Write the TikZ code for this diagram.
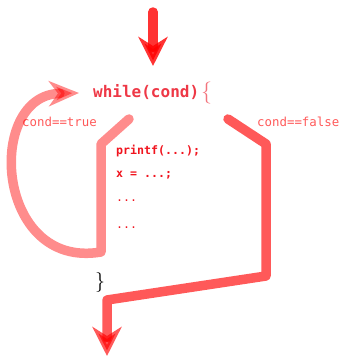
\documentclass[tikz,border=0pt]{standalone}
\usepackage{fontspec}
\newfontfamily\codefont{DejaVu Sans Mono}
\usetikzlibrary{arrows.meta}
\usetikzlibrary{calc}

\definecolor{keyred}{RGB}{238,56,70}
\definecolor{bodyred}{RGB}{240,20,30}
\definecolor{labelred}{RGB}{255,90,90}

\begin{document}
\begin{tikzpicture}[x=1pt,y=-1pt,
    flow/.style={line width=9.5pt, line cap=round, line join=round, red,
      -{Stealth[length=29pt,width=29pt,inset=9pt]}},
    code/.style={anchor=west, inner sep=0pt, text=bodyred, font=\codefont\bfseries\fontsize{11.6}{12}\selectfont},
    cond/.style={anchor=west, inner sep=0pt, text=labelred, font=\codefont\fontsize{12.4}{13}\selectfont}]
      \useasboundingbox (0,0) rectangle (340,356);

      % loop header and body
      \node[anchor=west, inner sep=0pt, text=keyred, font=\codefont\bfseries\fontsize{16}{18}\selectfont] (while) at (93,92) {while(cond)};
      \node[anchor=west, inner sep=0pt, text=keyred!70, font=\fontsize{22}{24}\selectfont] (open) at (201,93) {\{};
      \node[code] (print) at (116,151) {printf(...);};
      \node[code] (assign) at (116,175) {x = ...;};
      \node[code, font=\codefont\fontsize{11.6}{12}\selectfont] (more1) at (116,201) {...};
      \node[code, font=\codefont\fontsize{11.6}{12}\selectfont] (more2) at (116,228) {...};
      \node[anchor=west, inner sep=0pt, font=\fontsize{20}{22}\selectfont] (close) at (95,282) {\}};

      \node[cond] (true) at (22,122) {cond==true};
      \node[cond] (false) at (257,122) {cond==false};

      % entry, repeat and exit
      \coordinate (in) at (153,12);
      \coordinate (intip) at (153,66);
      \draw[flow, opacity=0.8] (in) -- (intip);

      \coordinate (loopstart) at (129,119);
      \coordinate (looptip) at (79,93);
      \draw[flow, opacity=0.45, -{Stealth[length=30pt,width=25pt,inset=9pt]}]
        (loopstart) -- (101,144) -- (101,252) .. controls (-5,270) and (-15,95) .. (looptip);

      \coordinate (exitstart) at (228,119);
      \coordinate (exittip) at (107,356);
      \draw[flow, opacity=0.65] (exitstart) -- (266,144) -- (266,276) -- (107,300) -- (exittip);
\end{tikzpicture}
\end{document}
